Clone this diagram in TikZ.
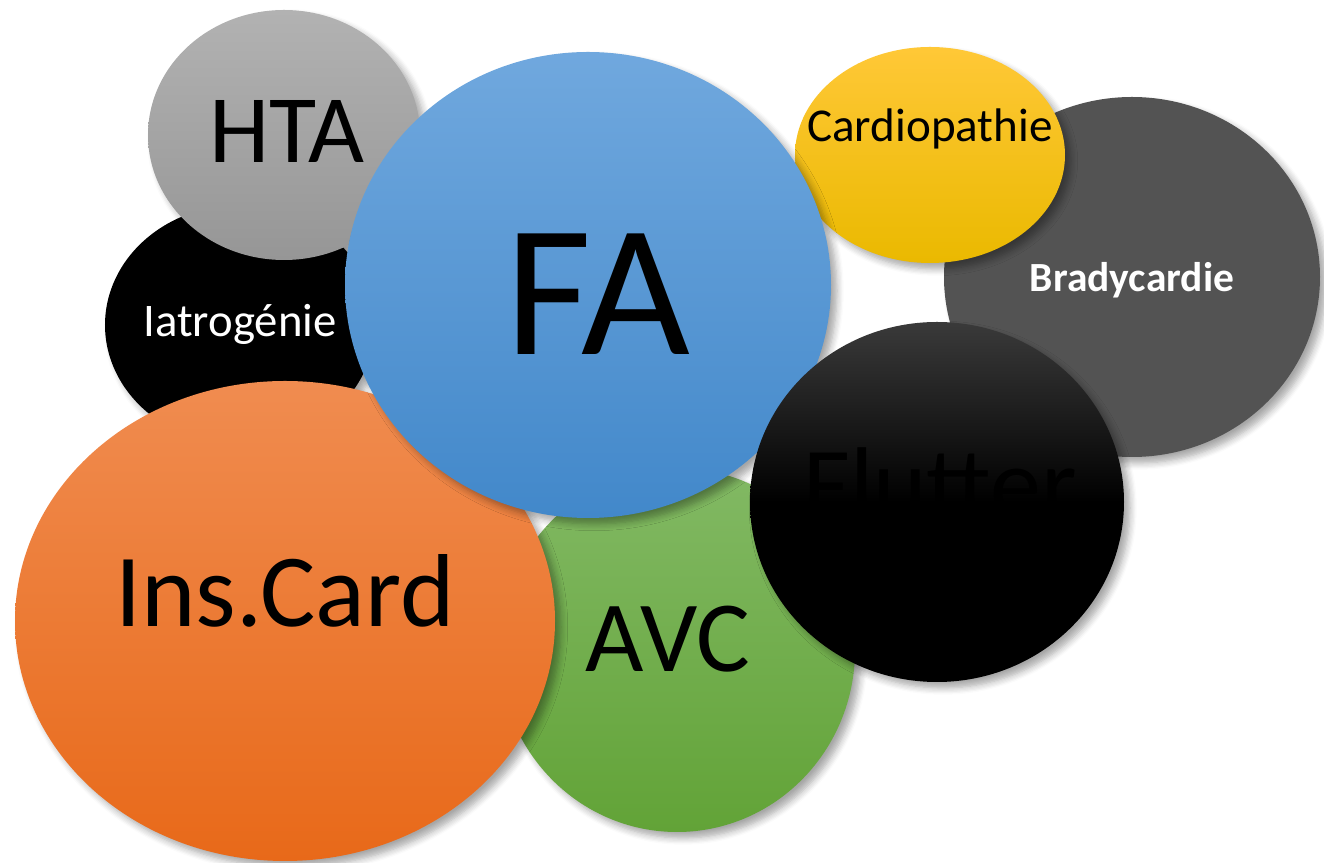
\documentclass[tikz,border=0pt]{standalone}
\usepackage{fontspec}
\setmainfont{Carlito}
\usetikzlibrary{shapes.geometric,shadows.blur}
\newcommand{\fsz}[1]{\fontsize{#1}{#1}\selectfont}
\begin{document}
\begin{tikzpicture}
                    \tikzstyle{bubble}=[ellipse, inner sep=0pt, blur shadow={shadow xshift=0.6mm, shadow yshift=-0.6mm, shadow blur steps=6, shadow opacity=35}]
                    \tikzstyle{word}=[anchor=base, inner sep=0pt]
                    \useasboundingbox (0,0) rectangle (13.24,8.63);
                    % bubbles, back to front
                    \node[bubble, fill=black, minimum width=2.70cm, minimum height=2.40cm] (IAT) at (2.40,5.38) {};
                    \node[bubble, top color={rgb,255:red,178;green,178;blue,178}, bottom color={rgb,255:red,150;green,150;blue,150}, minimum width=2.72cm, minimum height=2.50cm] (HTA) at (2.84,7.28) {};
                    \node[bubble, fill={rgb,255:red,83;green,83;blue,83}, minimum width=3.76cm, minimum height=3.60cm] (BRA) at (11.32,5.86) {};
                    \node[bubble, top color={rgb,255:red,255;green,200;blue,55}, bottom color={rgb,255:red,234;green,185;blue,0}, minimum width=2.70cm, minimum height=2.16cm] (CAR) at (9.30,7.08) {};
                    \node[bubble, top color={rgb,255:red,130;green,185;blue,100}, bottom color={rgb,255:red,98;green,163;blue,55}, minimum width=3.56cm, minimum height=3.64cm] (AVC) at (6.77,2.13) {};
                    \node[bubble, top color={rgb,255:red,240;green,140;blue,80}, bottom color={rgb,255:red,232;green,105;blue,25}, minimum width=5.40cm, minimum height=4.80cm] (INS) at (2.85,2.42) {};
                    \node[bubble, top color={rgb,255:red,112;green,168;blue,222}, bottom color={rgb,255:red,66;green,136;blue,202}, minimum width=4.86cm, minimum height=4.66cm] (FA) at (5.88,5.78) {};
                    \node[bubble, top color={rgb,255:red,58;green,58;blue,58}, bottom color=black, middle color=black, minimum width=3.74cm, minimum height=3.60cm] (FLU) at (9.37,3.61) {};
                    % labels
                    \node[word, text=white, font=\fsz{13.3}] (tIAT) at (2.40,5.26) {Iatrogénie};
                    \node[word, font=\fsz{27.5}] (tHTA) at (2.87,7.00) {HTA};
                    \node[word, text=white, font=\bfseries\fsz{11.8}] (tBRA) at (11.32,5.71) {Bradycardie};
                    \node[word, font=\fsz{13.4}] (tCAR) at (9.30,7.21) {Cardiopathie};
                    \node[word, font=\fsz{28.7}] (tAVC) at (6.68,1.91) {AVC};
                    \node[word, font=\fsz{29.5}] (tINS) at (2.85,2.36) {Ins.Card};
                    \node[word, font=\fsz{53.5}] (tFA) at (5.98,5.08) {FA};
                    \node[word, text=black, font=\fsz{29}] (tFLU) at (9.40,3.44) {Flutter};
                \end{tikzpicture}
\end{document}
